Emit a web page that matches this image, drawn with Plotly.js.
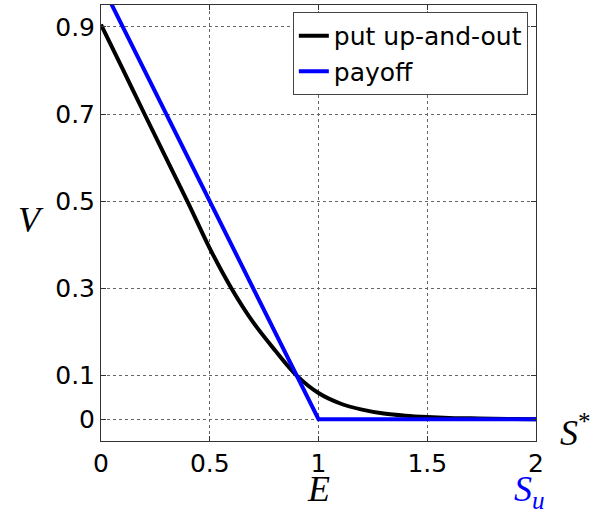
<!DOCTYPE html>
<html>
<head>
<meta charset="utf-8">
<script src="https://cdn.plot.ly/plotly-3.0.1.min.js"></script>
<style>html,body{margin:0;padding:0;background:#fff;}#chart{width:601px;height:509px;}</style>
</head>
<body>
<div id="chart"></div>
<script>
// Data
var sBarrier = [0, 0.1, 0.2, 0.3, 0.4, 0.5, 0.6, 0.7, 0.8, 0.9, 1.0, 1.1, 1.2, 1.3, 1.4, 1.5, 1.6, 1.7, 1.8, 1.9, 2.0];
var vBarrier = [0.905, 0.803, 0.700, 0.598, 0.497, 0.392, 0.300, 0.222, 0.158, 0.100, 0.060, 0.036, 0.022, 0.013, 0.008, 0.005, 0.003, 0.002, 0.001, 0.0005, 0.0];
var sPayoff = [0, 1, 2];
var vPayoff = [1, 0, 0];
var xTicks = [0, 0.5, 1, 1.5, 2];
var xTickText = ['0', '0.5', '1', '1.5', '2'];
var yTicks = [0, 0.1, 0.3, 0.5, 0.7, 0.9];
var yTickText = ['0', '0.1', '0.3', '0.5', '0.7', '0.9'];

var traces = [
  {x: sBarrier, y: vBarrier, type: 'scatter', mode: 'lines', name: 'put up-and-out',
   line: {color: '#000000', width: 4, shape: 'spline'}},
  {x: sPayoff, y: vPayoff, type: 'scatter', mode: 'lines', name: 'payoff',
   line: {color: '#0000ff', width: 4}}
];

var mathFont = {family: 'Liberation Serif, Times New Roman, serif', size: 36, color: '#000'};
var sans = 'DejaVu Sans, Arial, sans-serif';

var layout = {
  width: 601, height: 509,
  margin: {l: 101, r: 65, t: 5, b: 68},
  paper_bgcolor: '#ffffff', plot_bgcolor: '#ffffff',
  font: {family: sans, size: 25, color: '#000'},
  showlegend: true,
  legend: {x: 0.441, y: 0.984, xanchor: 'left', yanchor: 'top',
    bgcolor: '#ffffff', bordercolor: '#444', borderwidth: 1,
    font: {family: sans, size: 25, color: '#000'},
    tracegroupgap: 0, itemwidth: 30},
  xaxis: {range: [0, 2], tickvals: xTicks, ticktext: xTickText,
    showgrid: true, gridcolor: '#666', griddash: 'dot', gridwidth: 1,
    zeroline: false, showline: true, linecolor: '#333', linewidth: 1, mirror: 'ticks',
    ticks: 'inside', ticklen: 5, tickcolor: '#333',
    tickfont: {family: sans, size: 25}},
  yaxis: {range: [-0.05, 0.95], tickvals: yTicks, ticktext: yTickText,
    showgrid: true, gridcolor: '#666', griddash: 'dot', gridwidth: 1,
    zeroline: false, showline: true, linecolor: '#333', linewidth: 1, mirror: 'ticks',
    ticks: 'inside', ticklen: 5, tickcolor: '#333',
    tickfont: {family: sans, size: 25}},
  annotations: [
    {text: '<i>V</i>', xref: 'paper', yref: 'paper', x: -0.161, y: 0.507, showarrow: false,
     xanchor: 'center', yanchor: 'middle', font: mathFont},
    {text: '<i>E</i>', xref: 'x', yref: 'paper', x: 1, y: -0.11, showarrow: false,
     xanchor: 'center', yanchor: 'middle', font: mathFont},
    {text: '<i>S<sub>u</sub></i>', xref: 'x', yref: 'paper', x: 1.97, y: -0.115, showarrow: false,
     xanchor: 'center', yanchor: 'middle', font: {family: mathFont.family, size: 36, color: '#0000ff'}},
    {text: '<i>S</i><sup>*</sup>', xref: 'paper', yref: 'paper', x: 1.09, y: 0.025, showarrow: false,
     xanchor: 'center', yanchor: 'middle', font: mathFont}
  ]
};

Plotly.newPlot('chart', traces, layout, {displayModeBar: false, staticPlot: true});
</script>
</body>
</html>
